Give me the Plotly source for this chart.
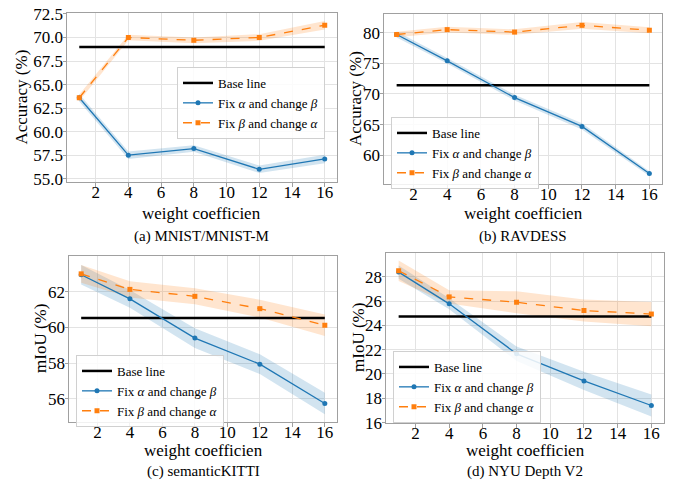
import plotly.graph_objects as go

x_vals = [1, 4, 8, 12, 16]
x_ticks = [2, 4, 6, 8, 10, 12, 14, 16]

# (a) MNIST/MNIST-M
a_base = 69.0
a_blue = [63.6, 57.5, 58.2, 56.0, 57.1]
a_blue_err = [0.4, 0.4, 0.35, 0.4, 0.45]
a_orange = [63.6, 70.0, 69.7, 70.0, 71.3]
a_orange_err = [0.35, 0.3, 0.3, 0.35, 0.45]

# (b) RAVDESS
b_base = 71.4
b_blue = [79.7, 75.4, 69.4, 64.7, 57.0]
b_blue_err = [0.5, 0.45, 0.45, 0.5, 0.4]
b_orange = [79.7, 80.5, 80.1, 81.2, 80.4]
b_orange_err = [0.45, 0.45, 0.45, 0.55, 0.5]

# (c) semanticKITTI
c_base = 60.53
c_blue = [62.95, 61.6, 59.4, 57.94, 55.74]
c_blue_err = [0.55, 0.5, 0.55, 0.55, 0.6]
c_orange = [63.0, 62.13, 61.74, 61.05, 60.12]
c_orange_err = [0.5, 0.45, 0.45, 0.5, 0.6]

# (d) NYU Depth V2
d_base = 24.73
d_blue = [28.38, 25.77, 21.66, 19.43, 17.41]
d_blue_err = [0.55, 0.45, 0.6, 0.75, 0.9]
d_orange = [28.49, 26.34, 25.9, 25.22, 24.93]
d_orange_err = [0.85, 0.55, 0.9, 0.9, 1.0]

captions = ["(a) MNIST/MNIST-M", "(b) RAVDESS", "(c) semanticKITTI", "(d) NYU Depth V2"]
x_title = "weight coefficien"
y_titles = ["Accuracy (%)", "Accuracy (%)", "mIoU (%)", "mIoU (%)"]
y_ranges = [[54.65, 72.6], [55.3, 83.05], [54.7, 64.0], [15.97, 29.95]]
y_tickvals = [[55.0, 57.5, 60.0, 62.5, 65.0, 67.5, 70.0, 72.5],
              [60, 65, 70, 75, 80],
              [56, 58, 60, 62],
              [16, 18, 20, 22, 24, 26, 28]]
y_fmt = [".1f", "d", "d", "d"]

panels = [
    (a_base, a_blue, a_blue_err, a_orange, a_orange_err),
    (b_base, b_blue, b_blue_err, b_orange, b_orange_err),
    (c_base, c_blue, c_blue_err, c_orange, c_orange_err),
    (d_base, d_blue, d_blue_err, d_orange, d_orange_err),
]

W, H = 681, 483
def px(v, total):
    return v / total

# plot areas in pixels: (left, right, top, bottom)
areas = [(67, 337, 13, 182), (384, 662, 14, 184), (69, 337, 256, 422), (386, 664, 253, 423)]
legend_pos = [(177, 67), (391, 117), (76, 355), (393, 351)]
caption_y = [236, 236, 471, 471]
xtitle_y = [213, 213, 450, 450]
ytitle_x = [21, 355, 40, 358]

BLUE = "#1f77b4"
ORANGE = "#ff7f0e"
FONT = "Liberation Serif"

fig = go.Figure()
layout = {}
for i, (base, blue, blue_err, orange, orange_err) in enumerate(panels):
    n = "" if i == 0 else str(i + 1)
    xa, ya = "x" + n, "y" + n
    leg = "legend" + n
    for vals, errs, col in [(blue, blue_err, "rgba(31,119,180,0.2)"), (orange, orange_err, "rgba(255,127,14,0.2)")]:
        up = [v + e for v, e in zip(vals, errs)]
        lo = [v - e for v, e in zip(vals, errs)]
        fig.add_trace(go.Scatter(x=x_vals + x_vals[::-1], y=up + lo[::-1], fill="toself",
                                 fillcolor=col, line=dict(width=0), mode="lines",
                                 hoverinfo="skip", showlegend=False, xaxis=xa, yaxis=ya))
    fig.add_trace(go.Scatter(x=[x_vals[0], x_vals[-1]], y=[base, base], mode="lines",
                             line=dict(color="black", width=2.5), name="Base line",
                             legend=leg, xaxis=xa, yaxis=ya))
    fig.add_trace(go.Scatter(x=x_vals, y=blue, mode="lines+markers",
                             line=dict(color=BLUE, width=1.3), marker=dict(size=5, color=BLUE),
                             name="Fix <i>α</i> and change <i>β</i>", legend=leg, xaxis=xa, yaxis=ya))
    fig.add_trace(go.Scatter(x=x_vals, y=orange, mode="lines+markers",
                             line=dict(color=ORANGE, width=1.3, dash="dash"),
                             marker=dict(size=5, color=ORANGE, symbol="square"),
                             name="Fix <i>β</i> and change <i>α</i>", legend=leg, xaxis=xa, yaxis=ya))

    l, r, t, b = areas[i]
    axis_common = dict(showgrid=True, gridcolor="#e3e3e3", gridwidth=1, showline=True,
                       linecolor="#a0a0a0", linewidth=1, mirror=True, ticks="outside",
                       ticklen=3.5, tickcolor="#a0a0a0", zeroline=False, automargin=False,
                       tickfont=dict(family=FONT, size=17, color="black"))
    layout["xaxis" + n] = dict(axis_common, domain=[px(l, W), px(r, W)], anchor=ya,
                               range=[0.25, 16.75], tickvals=x_ticks, ticklabelstandoff=-9)
    layout["yaxis" + n] = dict(axis_common, domain=[1 - px(b, H), 1 - px(t, H)], anchor=xa,
                               range=y_ranges[i], tickvals=y_tickvals[i], tickformat=y_fmt[i],
                               ticklabelstandoff=-4)
    lx, ly = legend_pos[i]
    layout[leg] = dict(x=px(lx, W), y=1 - px(ly, H), xanchor="left", yanchor="top",
                       bgcolor="rgba(255,255,255,0.85)", bordercolor="#d0d0d0", borderwidth=1,
                       font=dict(family=FONT, size=13, color="black"), itemwidth=30,
                       tracegroupgap=0)

annotations = []
for i in range(4):
    l, r, t, b = areas[i]
    cx = px((l + r) / 2, W)
    annotations.append(dict(text=captions[i], x=cx, y=1 - px(caption_y[i], H),
                            xref="paper", yref="paper", showarrow=False, xanchor="center",
                            yanchor="middle", font=dict(family=FONT, size=15, color="black")))
    annotations.append(dict(text=x_title, x=cx, y=1 - px(xtitle_y[i], H),
                            xref="paper", yref="paper", showarrow=False, xanchor="center",
                            yanchor="middle", font=dict(family=FONT, size=17, color="black")))
    annotations.append(dict(text=y_titles[i], x=px(ytitle_x[i], W), y=1 - px((t + b) / 2, H),
                            xref="paper", yref="paper", showarrow=False, textangle=-90,
                            xanchor="center", yanchor="middle",
                            font=dict(family=FONT, size=17, color="black")))

fig.update_layout(width=W, height=H, margin=dict(l=0, r=0, t=0, b=0, pad=0),
                  autosize=False, template="none",
                  font=dict(family=FONT, size=17, color="black"),
                  paper_bgcolor="white", plot_bgcolor="white",
                  annotations=annotations, **layout)

fig.write_html("out.html", post_script="document.body.style.margin='0';",
               config={"displayModeBar": False})
